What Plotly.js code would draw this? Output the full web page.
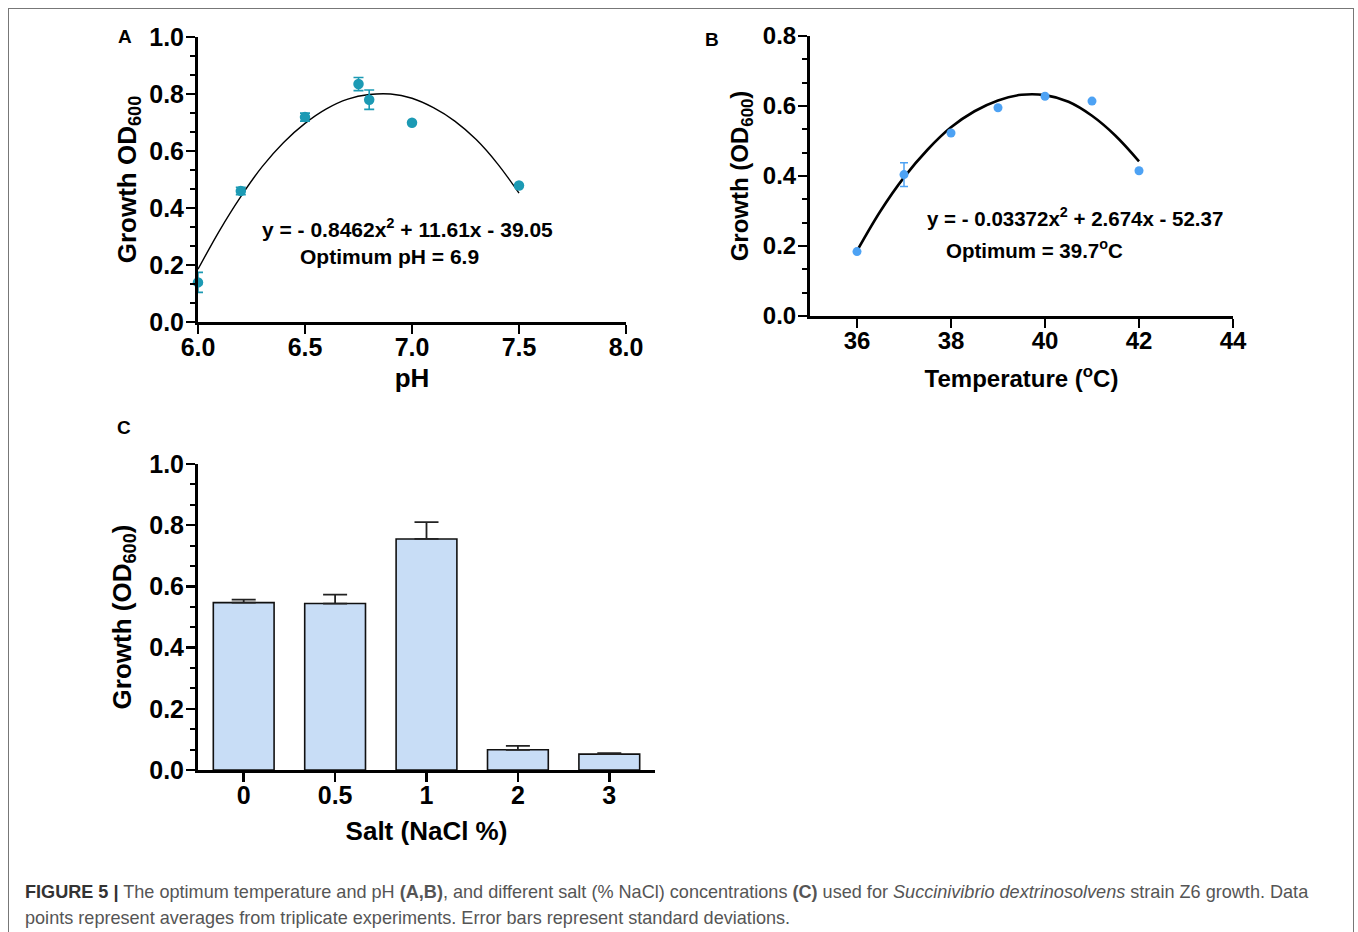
<!DOCTYPE html>
<html>
<head>
<meta charset="utf-8">
<script src="https://cdn.plot.ly/plotly-3.0.1.min.js"></script>
<style>
  html, body { margin: 0; padding: 0; background: #fff; }
  #wrap { position: relative; width: 1358px; height: 932px; overflow: hidden; }
  #chart { position: absolute; left: 0; top: 0; width: 1358px; height: 932px; }
  #frame { position: absolute; left: 8px; top: 8px; width: 1344px; height: 960px;
           border: 1.5px solid #777; border-bottom: none; pointer-events: none; }
  #caption { position: absolute; left: 25px; top: 879px; font-family: "Liberation Sans", Arial, sans-serif;
             font-size: 19px; line-height: 26px; color: #555; white-space: nowrap;
             transform: scaleX(0.952); transform-origin: 0 0; }
  #caption b.fig { color: #333; }
</style>
</head>
<body>
<div id="wrap">
  <div id="chart"></div>
  <div id="frame"></div>
  <div id="caption"><b class="fig">FIGURE 5 |</b> The optimum temperature and pH <b>(A,B)</b>, and different salt (% NaCl) concentrations <b>(C)</b> used for <i>Succinivibrio dextrinosolvens</i> strain Z6 growth. Data<br>points represent averages from triplicate experiments. Error bars represent standard deviations.</div>
</div>
<script>
// ---- Panel A: pH ----
const phX = [6.0, 6.2, 6.5, 6.75, 6.8, 7.0, 7.5];
const phY = [0.139, 0.46, 0.719, 0.835, 0.78, 0.699, 0.479];
const phErr = [0.035, 0.013, 0.014, 0.023, 0.034, 0, 0];
const phFitX = [6.0, 6.1, 6.2, 6.3, 6.4, 6.5, 6.6, 6.7, 6.8, 6.9, 7.0, 7.1, 7.2, 7.3, 7.4, 7.5];
const phFitY = [0.185, 0.32, 0.44, 0.545, 0.63, 0.697, 0.748, 0.782, 0.798, 0.80, 0.785, 0.752, 0.705, 0.64, 0.555, 0.452];
const phTicks = [6.0, 6.5, 7.0, 7.5, 8.0];

// ---- Panel B: temperature ----
const tempX = [36, 37, 38, 39, 40, 41, 42];
const tempY = [0.184, 0.404, 0.523, 0.595, 0.628, 0.614, 0.415];
const tempErr = [0, 0.034, 0, 0, 0, 0, 0];
const tempFitX = [36, 36.5, 37, 37.5, 38, 38.5, 39, 39.5, 40, 40.5, 41, 41.5, 42];
const tempFitY = [0.186, 0.30, 0.396, 0.475, 0.539, 0.585, 0.616, 0.632, 0.631, 0.612, 0.572, 0.515, 0.442];

// ---- Panel C: salt ----
const saltCats = ['0', '0.5', '1', '2', '3'];
const saltY = [0.547, 0.544, 0.755, 0.066, 0.052];
const saltErr = [0.01, 0.029, 0.055, 0.013, 0.003];

const W = 1358, H = 932;
const px = v => v / W;
const py = v => 1 - v / H;

const FONT = '"Liberation Sans", Arial, sans-serif';
const tf = s => ({family: FONT, size: s, color: '#000', weight: 'bold'});

function yAxis(domain, range, anchor, standoff, title, tickSize, titleSize) {
  return {
    domain: domain, range: range, anchor: anchor,
    showline: true, linewidth: 3, linecolor: '#000',
    showgrid: false, zeroline: false,
    ticks: 'outside', ticklen: 9, tickwidth: 2.5, tickcolor: '#000',
    dtick: 0.2, tick0: 0, tickformat: '.1f',
    tickfont: tf(tickSize), ticklabelstandoff: -3,
    minor: {ticks: 'outside', ticklen: 5, tickwidth: 2, tickcolor: '#000', dtick: 0.2 / 3, tick0: 0, showgrid: false},
    title: {text: title, font: tf(titleSize), standoff: standoff},
    automargin: false, fixedrange: true
  };
}

const data = [
  {type: 'scatter', mode: 'lines', x: phFitX, y: phFitY, xaxis: 'x', yaxis: 'y',
   line: {color: '#000', width: 1.4, shape: 'spline'}, hoverinfo: 'skip', cliponaxis: false},
  {type: 'scatter', mode: 'markers', x: phX, y: phY, xaxis: 'x', yaxis: 'y',
   marker: {color: '#1c9ab4', size: 10.5},
   error_y: {type: 'data', array: phErr, visible: true, color: '#1c9ab4', thickness: 1.6, width: 5},
   cliponaxis: false},
  {type: 'scatter', mode: 'lines', x: tempFitX, y: tempFitY, xaxis: 'x2', yaxis: 'y2',
   line: {color: '#000', width: 2.6, shape: 'spline'}, hoverinfo: 'skip', cliponaxis: false},
  {type: 'scatter', mode: 'markers', x: tempX, y: tempY, xaxis: 'x2', yaxis: 'y2',
   marker: {color: '#4da2f4', size: 9},
   error_y: {type: 'data', array: tempErr, visible: true, color: '#4da2f4', thickness: 1.5, width: 4},
   cliponaxis: false},
  {type: 'bar', x: saltCats, y: saltY, xaxis: 'x3', yaxis: 'y3', width: 0.665,
   marker: {color: '#c8ddf6', line: {color: '#111', width: 1.6}},
   error_y: {type: 'data', symmetric: false, array: saltErr, arrayminus: [0, 0, 0, 0, 0], visible: true,
             color: '#222', thickness: 1.8, width: 12}}
];

const layout = {
  width: W, height: H,
  margin: {l: 0, r: 0, t: 0, b: 0},
  paper_bgcolor: 'rgba(0,0,0,0)', plot_bgcolor: 'rgba(0,0,0,0)',
  showlegend: false,
  xaxis: {
    domain: [px(198), px(626)], range: [6, 8], anchor: 'y',
    showline: true, linewidth: 3, linecolor: '#000', showgrid: false, zeroline: false,
    tickmode: 'array', tickvals: phTicks, ticktext: phTicks.map(v => v.toFixed(1)),
    ticks: 'outside', ticklen: 9, tickwidth: 2.5, tickcolor: '#000',
    tickfont: tf(25), ticklabelstandoff: -8,
    title: {text: 'pH', font: tf(26), standoff: 9},
    automargin: false, fixedrange: true
  },
  yaxis: yAxis([py(322), py(37)], [0, 1.0], 'x', 6, 'Growth OD<sub>600</sub>', 25, 26),
  xaxis2: {
    domain: [px(810), px(1233)], range: [35, 44], anchor: 'y2',
    showline: true, linewidth: 3, linecolor: '#000', showgrid: false, zeroline: false,
    dtick: 2, tick0: 36,
    ticks: 'outside', ticklen: 9, tickwidth: 2.5, tickcolor: '#000',
    tickfont: tf(24), ticklabelstandoff: -8,
    title: {text: 'Temperature (<sup>o</sup>C)', font: tf(24), standoff: 18},
    automargin: false, fixedrange: true
  },
  yaxis2: yAxis([py(316), py(36)], [0, 0.8], 'x2', 8, 'Growth (OD<sub>600</sub>)', 24, 24),
  xaxis3: {
    domain: [px(198), px(655)], range: [-0.5, 4.5], anchor: 'y3', type: 'category',
    showline: true, linewidth: 3, linecolor: '#000', showgrid: false, zeroline: false,
    ticks: 'outside', ticklen: 9, tickwidth: 2.5, tickcolor: '#000',
    tickfont: tf(25), ticklabelstandoff: -8,
    title: {text: 'Salt (NaCl %)', font: tf(26), standoff: 14},
    automargin: false, fixedrange: true
  },
  yaxis3: yAxis([py(770), py(464)], [0, 1.0], 'x3', 11, 'Growth (OD<sub>600</sub>)', 25, 26),
  annotations: [
    {xref: 'paper', yref: 'paper', x: px(125), y: py(37), text: '<b>A</b>', showarrow: false,
     xanchor: 'center', yanchor: 'middle', font: {family: FONT, size: 19, color: '#000'}},
    {xref: 'paper', yref: 'paper', x: px(712), y: py(40), text: '<b>B</b>', showarrow: false,
     xanchor: 'center', yanchor: 'middle', font: {family: FONT, size: 19, color: '#000'}},
    {xref: 'paper', yref: 'paper', x: px(124), y: py(428), text: '<b>C</b>', showarrow: false,
     xanchor: 'center', yanchor: 'middle', font: {family: FONT, size: 19, color: '#000'}},
    {xref: 'paper', yref: 'paper', x: px(407), y: py(228), text: '<b>y = - 0.8462x<sup>2</sup> + 11.61x - 39.05</b>', showarrow: false,
     xanchor: 'center', yanchor: 'middle', font: {family: FONT, size: 21, color: '#000'}},
    {xref: 'paper', yref: 'paper', x: px(390), y: py(256), text: '<b>Optimum pH = 6.9</b>', showarrow: false,
     xanchor: 'center', yanchor: 'middle', font: {family: FONT, size: 21, color: '#000'}},
    {xref: 'paper', yref: 'paper', x: px(1075), y: py(217), text: '<b>y = - 0.03372x<sup>2</sup> + 2.674x - 52.37</b>', showarrow: false,
     xanchor: 'center', yanchor: 'middle', font: {family: FONT, size: 20.5, color: '#000'}},
    {xref: 'paper', yref: 'paper', x: px(1034), y: py(249), text: '<b>Optimum = 39.7<sup>o</sup>C</b>', showarrow: false,
     xanchor: 'center', yanchor: 'middle', font: {family: FONT, size: 20.5, color: '#000'}}
  ]
};

Plotly.newPlot('chart', data, layout, {staticPlot: true, displayModeBar: false});
</script>
</body>
</html>
